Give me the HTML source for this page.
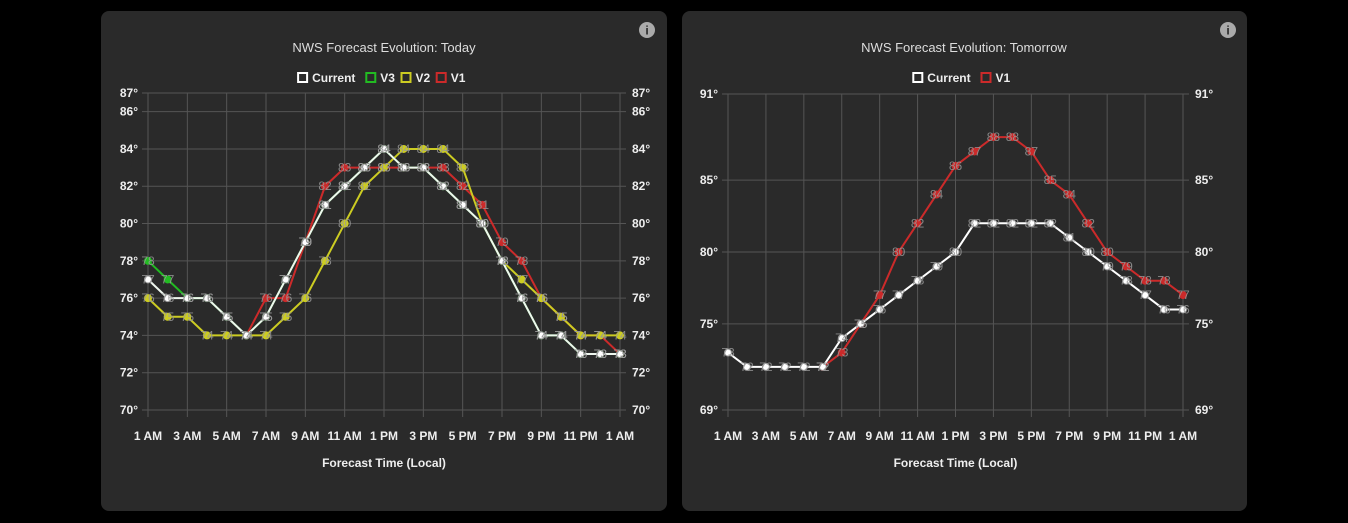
<!DOCTYPE html>
<html><head><meta charset="utf-8"><style>
html,body{margin:0;padding:0;background:#000;width:1348px;height:523px;overflow:hidden;font-family:"Liberation Sans",sans-serif}
.panel{position:absolute;top:11px;width:566px;height:500px;background:#2a2a2a;border-radius:8px}
svg{position:absolute;left:0;top:0}
</style></head><body>
<div class="panel" style="left:101px"></div>
<div class="panel" style="left:682px;width:565px"></div>
<svg id="s" width="1348" height="523"></svg>
<script>
const hourLabels = ["1 AM","3 AM","5 AM","7 AM","9 AM","11 AM","1 PM","3 PM","5 PM","7 PM","9 PM","11 PM","1 AM"];
const todayTicks = [70,72,74,76,78,80,82,84,86,87];
const todayCurrent = [77,76,76,76,75,74,75,77,79,81,82,83,84,83,83,82,81,80,78,76,74,74,73,73,73];
const todayV3 = [78,77,76,76,75,74,75,77,79,81,82,83,84,83,83,82,81,80,78,76,74,74,73,73,73];
const todayV2 = [76,75,75,74,74,74,74,75,76,78,80,82,83,84,84,84,83,80,78,77,76,75,74,74,74];
const todayV1 = [null,null,null,null,null,74,76,76,79,82,83,83,83,83,83,83,82,81,79,78,76,75,74,74,73];
const tomTicks = [69,75,80,85,91];
const tomCurrent = [73,72,72,72,72,72,74,75,76,77,78,79,80,82,82,82,82,82,81,80,79,78,77,76,76];
const tomV1 = [null,null,null,null,null,72,73,75,77,80,82,84,86,87,88,88,87,85,84,82,80,79,78,78,77];

const NS="http://www.w3.org/2000/svg";
const svg=document.getElementById('s');
function mk(tag,attrs,parent,text){const e=document.createElementNS(NS,tag);for(const k in attrs)e.setAttribute(k,attrs[k]);if(text!==undefined)e.textContent=text;(parent||svg).appendChild(e);return e;}

function chart(cfg){
  const g=mk('g',{});
  
  
  const x=i=>cfg.x0+(cfg.x1-cfg.x0)*i/24;
  const y=v=>cfg.y1-(v-cfg.vmin)*(cfg.y1-cfg.y0)/(cfg.vmax-cfg.vmin);
  const t=mk('text',{x:cfg.cx,y:52,fill:'#ddd','font-size':13,'text-anchor':'middle'},g,cfg.title);
  
  
  const ic=mk('g',{},g);
  
  
  mk('circle',{cx:cfg.info,cy:30,r:8,fill:'#aaa'},ic);
  mk('text',{x:cfg.info,y:34.5,fill:'#2a2a2a','font-size':12,'font-weight':'bold','text-anchor':'middle'},ic,'i');
  let lw=0;const items=cfg.series.map(s=>{const w=s.label.length*6.6+22;lw+=w;return w;});
  let lx=cfg.cx-lw/2;
  cfg.series.forEach((s,k)=>{
    const le=mk('g',{},g);
    
    
    mk('rect',{x:lx+1,y:73,width:9,height:9,fill:'#2a2a2a',stroke:s.color,'stroke-width':2},le);
    mk('text',{x:lx+15,y:82,fill:'#eee','font-size':12,'font-weight':'bold'},le,s.label);
    lx+=items[k];
  });
  cfg.ticks.forEach(v=>{
    mk('line',{x1:cfg.x0-6,x2:cfg.x1+6,y1:y(v),y2:y(v),stroke:'#555','stroke-width':1},g);
    const a=mk('text',{x:cfg.x0-10,y:y(v)+4,fill:'#eee','font-size':12,'font-weight':'bold','text-anchor':'end'},g,v+'°');
    
    
    const b=mk('text',{x:cfg.x1+12,y:y(v)+4,fill:'#eee','font-size':12,'font-weight':'bold'},g,v+'°');
    
    
  });
  hourLabels.forEach((l,k)=>{
    const xx=x(k*2);
    mk('line',{x1:xx,x2:xx,y1:cfg.y0,y2:cfg.y1+7,stroke:'#555','stroke-width':1},g);
    const a=mk('text',{x:xx,y:440,fill:'#eee','font-size':12,'font-weight':'bold','text-anchor':'middle'},g,l);
    
    
  });
  const at=mk('text',{x:(cfg.x0+cfg.x1)/2,y:467,fill:'#eee','font-size':12,'font-weight':'bold','text-anchor':'middle'},g,'Forecast Time (Local)');
  
  
  const labels=[];
  [...cfg.series].reverse().forEach(s=>{
    const sg=mk('g',{},g);
    
    
    let d='';let pen=false;
    s.data.forEach((v,i)=>{if(v===null){pen=false;return;}d+=(pen?'L':'M')+x(i)+' '+y(v)+' ';pen=true;});
    mk('path',{d:d,fill:'none',stroke:s.line||s.color,'stroke-width':2},sg);
    s.data.forEach((v,i)=>{
      if(v===null)return;
      const c=mk('circle',{cx:x(i),cy:y(v),r:3.5,fill:s.color,stroke:s.pt||s.color,'stroke-width':1},sg);
      
      
      labels.push([x(i),y(v),v]);
    });
  });
  const lg=mk('g',{},g);
  
  
  labels.forEach(l=>mk('text',{x:l[0],y:l[1]+4,fill:'#999','font-size':12,'text-anchor':'middle','fill-opacity':0.85},lg,l[2]));
}
chart({name:'today-chart',title:'NWS Forecast Evolution: Today',cx:384,info:647,x0:148,x1:620,y0:93,y1:410,vmin:70,vmax:87,ticks:todayTicks,
  series:[{label:'Current',color:'#fff',line:'#eef6ee',pt:'#999',data:todayCurrent},
          {label:'V3',color:'#22bb22',data:todayV3},
          {label:'V2',color:'#cccc22',data:todayV2},
          {label:'V1',color:'#cc2a2a',data:todayV1}]});
chart({name:'tomorrow-chart',title:'NWS Forecast Evolution: Tomorrow',cx:964,info:1228,x0:728,x1:1183,y0:94,y1:410,vmin:69,vmax:91,ticks:tomTicks,
  series:[{label:'Current',color:'#fff',line:'#fff',pt:'#999',data:tomCurrent},
          {label:'V1',color:'#cc2a2a',data:tomV1}]});
</script>
</body></html>
